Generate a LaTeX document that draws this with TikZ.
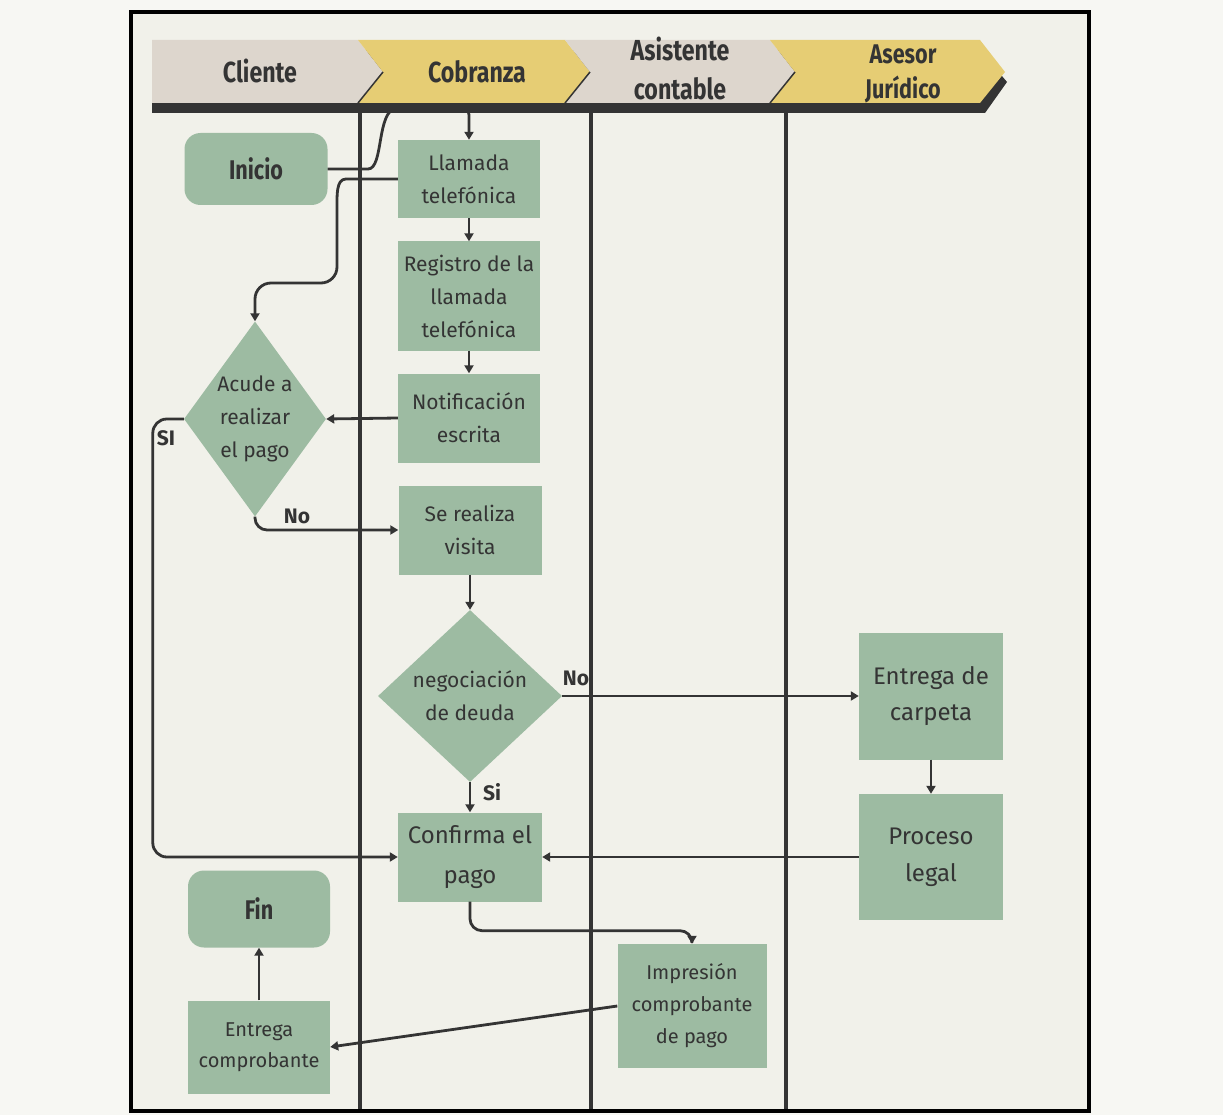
\documentclass[tikz,border=0pt]{standalone}
\usepackage{fontspec}
\setmainfont{Fira Sans}
\newfontfamily\headfont{Fira Sans}[FakeStretch=0.8]
\usepackage{tikz}
\usetikzlibrary{arrows.meta, positioning, shapes.geometric}
\definecolor{boxg}{RGB}{157,187,162}
\definecolor{paper}{RGB}{241,241,234}
\definecolor{outside}{RGB}{247,247,243}
\definecolor{lanegray}{RGB}{221,214,205}
\definecolor{laneyel}{RGB}{230,205,116}
\definecolor{ink}{RGB}{52,52,52}

\begin{document}
\begin{tikzpicture}[x=1pt,y=-1pt,
    box/.style={rectangle,fill=boxg,inner sep=0pt,align=center,text=ink,font=\fontsize{21}{33}\selectfont},
    term/.style={box,rounded corners=16pt,font=\headfont\bfseries\fontsize{27}{30}\selectfont},
    decision/.style={diamond,fill=boxg,inner sep=-12pt,align=center,text=ink,font=\fontsize{21}{33}\selectfont},
    flow/.style={draw=ink,line width=2.8pt,rounded corners=12pt,-{Triangle[length=8pt,width=9pt]}},
    lbl/.style={font=\bfseries\fontsize{21}{24}\selectfont,text=ink},
    head/.style={font=\headfont\bfseries\fontsize{29}{39}\selectfont,text=ink,align=center},
    lane/.style={draw=ink,line width=4pt}]
			% canvas and frame
			\useasboundingbox (0,0) rectangle (1223,1115);
			\fill[outside] (0,0) rectangle (1223,1115);
			\fill[paper] (131,12) rectangle (1089,1111);
			% lane lines
			\draw[lane] (360,110) -- (360,1111);
			\draw[lane] (591,110) -- (591,1111);
			\draw[lane] (786,110) -- (786,1111);
			% nodes
			\node[term,minimum width=143,minimum height=72] (inicio) at (256,169) {Inicio};
			\node[box,minimum width=142,minimum height=78] (llamada) at (469,179) {Llamada\\telefónica};
			\node[box,minimum width=142,minimum height=109] (registro) at (469,296) {Registro de la\\llamada\\telefónica};
			\node[box,minimum width=142,minimum height=89] (notif) at (469,418) {Notificación\\escrita};
			\node[decision,minimum width=142,minimum height=195] (acude) at (255,419) {Acude a\\realizar\\el pago};
			\node[box,minimum width=143,minimum height=89] (visita) at (470,530) {Se realiza\\visita};
			\node[decision,minimum width=184,minimum height=172] (negoc) at (470,696) {negociación\\de deuda};
			\node[box,minimum width=144,minimum height=127,font=\fontsize{24}{36}\selectfont] (carpeta) at (931,696) {Entrega de\\carpeta};
			\node[box,minimum width=144,minimum height=126,font=\fontsize{24}{37}\selectfont] (legal) at (931,857) {Proceso\\legal};
			\node[box,minimum width=144,minimum height=89,font=\fontsize{24}{40}\selectfont] (confirma) at (470,857) {Confirma el\\pago};
			\node[term,minimum width=142,minimum height=77] (fin) at (259,909) {Fin};
			\node[box,minimum width=149,minimum height=124,font=\fontsize{20}{32}\selectfont] (impresion) at (692,1006) {Impresión\\comprobante\\de pago};
			\node[box,minimum width=142,minimum height=93,font=\fontsize{20}{31}\selectfont] (entregacomp) at (259,1047) {Entrega\\comprobante};
			% start connector runs under the header
			\draw[flow,rounded corners=8pt] (inicio.east) -- (360,169) .. controls (384,169) and (376,110) .. (405,107) -- (469,107) -- (llamada.north);
			% header band with shadow
			\fill[ink] (152,50) -- (980,50) -- (1007,82) -- (985,113) -- (152,113) -- cycle;
			\fill[lanegray] (152,40) -- (358,40) -- (383,72) -- (358,103) -- (152,103) -- cycle;
			\fill[laneyel] (358,40) -- (565,40) -- (590,72) -- (565,103) -- (358,103) -- (383,72) -- cycle;
			\fill[lanegray] (565,40) -- (770,40) -- (795,72) -- (770,103) -- (565,103) -- (590,72) -- cycle;
			\fill[laneyel] (770,40) -- (980,40) -- (1005,72) -- (980,103) -- (770,103) -- (795,72) -- cycle;
			\draw[ink,line width=1.5pt] (383,72) -- (358,103) (590,72) -- (565,103) (795,72) -- (770,103);
			\node[head] (hcliente) at (260,71) {Cliente};
			\node[head] (hcobranza) at (477,72) {Cobranza};
			\node[head] (hasistente) at (680,68) {Asistente\\contable};
			\node[head,font=\headfont\bfseries\fontsize{27}{35}\selectfont] (hasesor) at (903,74) {Asesor\\Jurídico};
			% frame
			\draw[black,line width=4pt] (131,12) rectangle (1089,1111);
			% connectors
			\draw[flow,rounded corners=16pt] (llamada.west) -- (362,179) .. controls (336,179) and (337,196) .. (337,225) -- (337,283) -- (255,283) -- (acude.north);
			\draw[flow] (llamada.south) -- (registro.north);
			\draw[flow] (registro.south) -- (notif.north);
			\draw[flow] (notif.west) -- (acude.east);
			\draw[flow] (acude.south) |- (visita.west);
			\draw[flow,rounded corners=14pt] (acude.west) -- ++(-31,0) |- (confirma.west);
			\draw[flow] (visita.south) -- (negoc.north);
			\draw[flow] (negoc.east) -- (carpeta.west);
			\draw[flow] (negoc.south) -- (confirma.north);
			\draw[flow] (carpeta.south) -- (legal.north);
			\draw[flow] (legal.west) -- (confirma.east);
			\draw[flow] (confirma.south) -- ++(0,29) -| (impresion.north);
			\draw[flow] (impresion.west) -- (entregacomp.east);
			\draw[flow] (entregacomp.north) -- (fin.south);
			% branch labels
			\node[lbl] (si1) at (166,438) {SI};
			\node[lbl] (no1) at (297,516) {No};
			\node[lbl] (no2) at (576,678) {No};
			\node[lbl] (si2) at (492,792) {Si};
		\end{tikzpicture}
\end{document}
